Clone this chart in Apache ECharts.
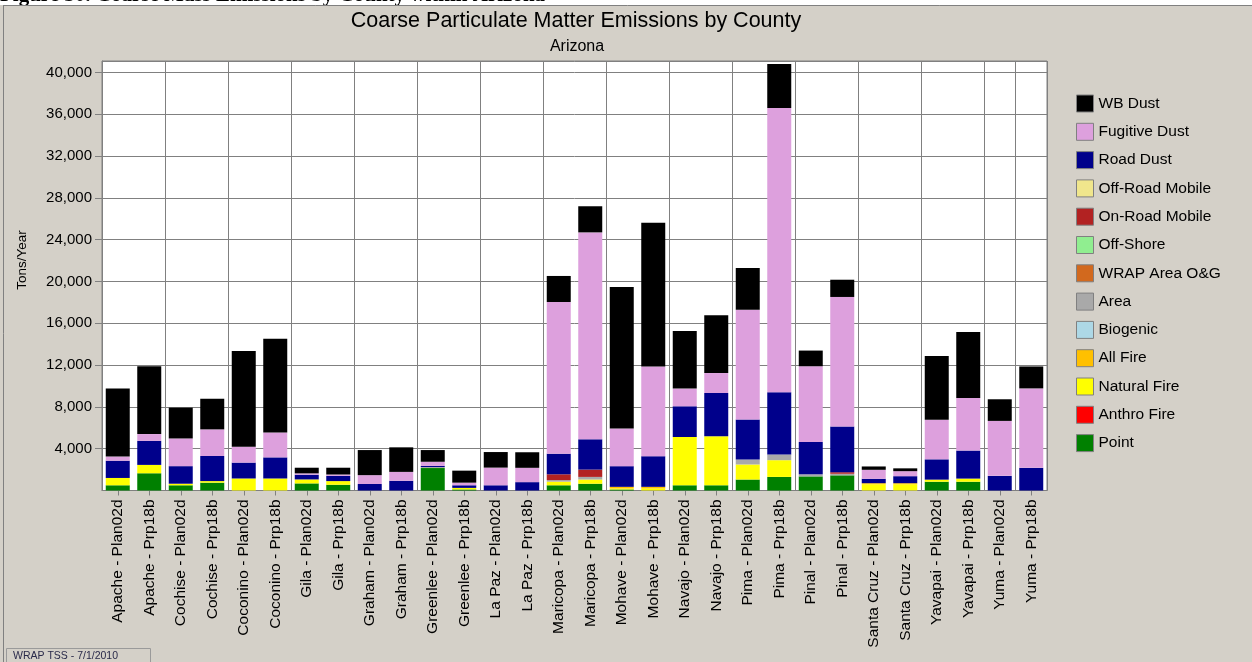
<!DOCTYPE html>
<html><head><meta charset="utf-8">
<script src="https://cdn.jsdelivr.net/npm/echarts@6/dist/echarts.min.js"></script>
<style>html,body{margin:0;padding:0;background:#d4d0c8;}#c{width:1252px;height:662px;}</style>
</head><body><div id="c"></div>
<script>
const categories = [
  'Apache - Plan02d','Apache - Prp18b','Cochise - Plan02d','Cochise - Prp18b',
  'Coconino - Plan02d','Coconino - Prp18b','Gila - Plan02d','Gila - Prp18b',
  'Graham - Plan02d','Graham - Prp18b','Greenlee - Plan02d','Greenlee - Prp18b',
  'La Paz - Plan02d','La Paz - Prp18b','Maricopa - Plan02d','Maricopa - Prp18b',
  'Mohave - Plan02d','Mohave - Prp18b','Navajo - Plan02d','Navajo - Prp18b',
  'Pima - Plan02d','Pima - Prp18b','Pinal - Plan02d','Pinal - Prp18b',
  'Santa Cruz - Plan02d','Santa Cruz - Prp18b','Yavapai - Plan02d','Yavapai - Prp18b',
  'Yuma - Plan02d','Yuma - Prp18b'
];
// stacked from bottom to top
const point        = [500,1650,500,750,0,0,680,550,0,0,2150,100,0,0,500,650,100,0,500,500,1050,1300,1350,1450,0,0,840,840,0,0];
const anthroFire   = [0,0,0,0,0,0,0,0,0,0,0,0,0,0,0,0,0,0,0,0,0,0,0,0,0,0,0,0,0,0];
const naturalFire  = [700,800,150,150,1150,1150,380,350,0,0,0,150,0,0,350,400,100,200,4620,4690,1440,1600,0,0,600,600,200,300,0,0];
const allFire      = [0,0,0,0,0,0,0,0,0,0,0,0,0,0,0,0,150,150,0,0,0,0,0,0,100,100,0,0,0,0];
const biogenic     = [0,0,0,0,0,0,0,0,0,0,0,0,0,0,0,0,0,0,0,0,0,0,0,0,0,0,0,0,0,0];
const area         = [0,0,0,0,0,0,0,0,0,0,100,0,0,0,150,250,0,0,0,0,480,550,200,150,0,0,0,0,0,0];
const wrapAreaOG   = [0,0,0,0,0,0,0,0,0,0,0,0,0,0,0,0,0,0,0,0,0,0,0,0,0,0,0,0,0,0];
const offShore     = [0,0,0,0,0,0,0,0,0,0,0,0,0,0,0,0,0,0,0,0,0,0,0,0,0,0,0,0,0,0];
const onRoadMobile = [0,0,0,0,0,0,0,0,0,0,0,0,0,0,550,700,0,0,0,0,0,0,0,150,0,0,0,0,0,0];
const offRoadMobile= [0,0,0,0,0,0,0,0,0,0,0,0,0,0,0,0,0,0,0,0,0,0,0,0,0,0,0,0,0,0];
const roadDust     = [1650,2300,1680,2400,1520,2020,450,500,620,930,100,250,500,800,1970,2900,1980,2930,2940,4140,3830,5960,3090,4370,420,670,1940,2680,1400,2170];
const fugitiveDust = [400,650,2650,2550,1520,2380,130,130,850,850,400,250,1690,1370,14520,19800,3600,8580,1690,1910,10500,27200,7250,12400,860,480,3800,5040,5260,7600];
const wbDust       = [6500,6500,2950,2930,9150,8960,540,650,2400,2350,1120,1150,1490,1490,2490,2500,13550,13750,5510,5520,4000,4200,1500,1650,320,270,6100,6300,2070,2100];

const seriesNames = ['Point','Anthro Fire','Natural Fire','All Fire','Biogenic','Area','WRAP Area O&G','Off-Shore','On-Road Mobile','Off-Road Mobile','Road Dust','Fugitive Dust','WB Dust'];
const seriesData  = [point,anthroFire,naturalFire,allFire,biogenic,area,wrapAreaOG,offShore,onRoadMobile,offRoadMobile,roadDust,fugitiveDust,wbDust];
const seriesColors= ['#008000','#ff0000','#ffff00','#ffc000','#add8e6','#a9a9a9','#d2691e','#90ee90','#b22222','#f0e68c','#00008b','#dda0dd','#000000'];

const FONT = '"Liberation Sans", Arial, sans-serif';
const chart = echarts.init(document.getElementById('c'), null, {renderer:'canvas'});

const series = seriesNames.map((n,i)=>({
  name:n, type:'bar', stack:'total', data:seriesData[i], barWidth:24,
  itemStyle:{color:seriesColors[i]}, emphasis:{disabled:true}
}));

chart.setOption({
  animation:false,
  backgroundColor:'#d4d0c8',
  textStyle:{fontFamily:FONT},
  grid:{left:102, top:61, width:945, bottom:171.5, show:true, backgroundColor:'#ffffff', borderColor:'#808080', borderWidth:1},
  legend:{
    orient:'vertical', left:1071, top:89.5, itemWidth:17, itemHeight:17, itemGap:10.3,
    icon:'rect', data:seriesNames.slice().reverse(),
    itemStyle:{borderColor:'#808080', borderWidth:1},
    textStyle:{fontFamily:FONT, fontSize:15.5, color:'#000'},
    selectedMode:false
  },
  xAxis:{
    type:'category', data:categories,
    axisLine:{show:true, lineStyle:{color:'#808080'}},
    axisTick:{show:true, alignWithLabel:true, length:5, interval:0, lineStyle:{color:'#808080'}},
    axisLabel:{rotate:90, interval:0, fontSize:15.5, color:'#000', fontFamily:FONT, margin:9},
    splitLine:{show:true, interval:1, lineStyle:{color:'#808080', width:1}}
  },
  yAxis:{
    type:'value', min:0, max:41100, interval:4000,
    axisLine:{show:true, lineStyle:{color:'#808080'}},
    axisTick:{show:true, length:7, lineStyle:{color:'#808080'}},
    axisLabel:{fontSize:15, color:'#000', fontFamily:FONT, margin:10, showMinLabel:false, showMaxLabel:false,
      formatter:v=>v.toLocaleString('en-US')},
    splitLine:{show:true, lineStyle:{color:'#808080', width:1}}
  },
  graphic:[
    {type:'rect', shape:{x:0,y:0,width:1252,height:5}, style:{fill:'#ffffff'}},
    {type:'text', x:0, y:6, style:{text:'Figure 30. Coarse Mass Emissions by County within Arizona', font:'bold 21px "Liberation Serif", serif', fill:'#000', verticalAlign:'bottom'}},
    {type:'rect', shape:{x:0,y:5,width:1252,height:50}, style:{fill:'#d4d0c8'}},
    {type:'line', shape:{x1:3,y1:5.5,x2:1252,y2:5.5}, style:{stroke:'#808080', lineWidth:1}},
    {type:'line', shape:{x1:3.5,y1:5,x2:3.5,y2:662}, style:{stroke:'#808080', lineWidth:1}},
    {type:'text', x:576, y:21, style:{text:'Coarse Particulate Matter Emissions by County', font:'21.5px '+FONT, fill:'#000', align:'center', verticalAlign:'middle'}},
    {type:'text', x:577, y:47, style:{text:'Arizona', font:'16px '+FONT, fill:'#000', align:'center', verticalAlign:'middle'}},
    {type:'text', x:22, y:260, rotation:Math.PI/2, style:{text:'Tons/Year', font:'13.5px '+FONT, fill:'#000', align:'center', verticalAlign:'middle'}},
    {type:'rect', shape:{x:6.5,y:648.5,width:144,height:16}, style:{fill:'#d4d0c8', stroke:'#9a9a9a', lineWidth:1}},
    {type:'text', x:13, y:656, style:{text:'WRAP TSS - 7/1/2010', font:'10.5px '+FONT, fill:'#2a2a4a', verticalAlign:'middle'}}
  ],
  series:series
});
</script></body></html>
